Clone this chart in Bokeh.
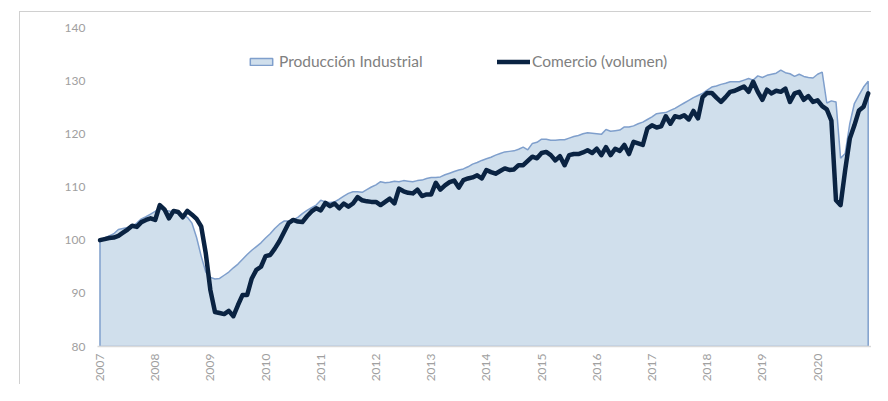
from bokeh.plotting import figure
from bokeh.models import Legend, LegendItem, FixedTicker, Range1d, InlineStyleSheet
from bokeh.embed import file_html
from bokeh.resources import INLINE
import math

years = ["2007", "2008", "2009", "2010", "2011", "2012", "2013",
         "2014", "2015", "2016", "2017", "2018", "2019", "2020"]

produccion = [
    100.0, 100.4, 100.8, 101.2, 102.0, 102.2, 102.4, 102.6, 103.2, 104.0, 104.4, 104.9,
    105.4, 106.0, 105.6, 105.5, 105.3, 105.0, 104.8, 104.3, 103.2, 100.5, 97.0, 94.0,
    93.0, 92.7, 92.8, 93.4, 94.0, 94.8, 95.5, 96.4, 97.3, 98.1, 98.8, 99.5,
    100.4, 101.2, 102.2, 103.0, 103.6, 103.6, 103.8, 104.3, 105.0, 105.6, 106.1, 106.6,
    107.5, 107.2, 107.1, 107.2, 107.7, 108.3, 108.8, 109.1, 109.1, 109.0, 109.5, 110.0,
    110.4, 111.0, 110.8, 110.9, 111.1, 111.0, 111.2, 111.1, 111.0, 111.2, 111.3, 111.6,
    111.8, 111.8, 111.9, 112.3, 112.6, 112.9, 113.2, 113.4, 113.8, 114.3, 114.6, 115.0,
    115.3, 115.6, 116.0, 116.3, 116.6, 116.7, 116.8, 117.1, 117.5, 117.0, 118.2, 118.4,
    119.0, 119.0, 118.8, 118.8, 118.9, 118.9, 119.2, 119.5, 119.7, 120.0, 120.2, 120.1,
    120.0, 119.9, 120.8, 120.5, 120.6, 120.7, 121.3, 121.3, 121.5, 121.9, 122.2, 122.7,
    123.2, 123.8, 123.9, 124.0, 124.4, 124.8, 125.3, 125.8, 126.3, 126.8, 127.2, 127.6,
    128.2, 128.8, 129.0, 129.3, 129.5, 129.8, 129.8, 129.8, 130.1, 130.4, 130.1, 130.9,
    130.6, 131.0, 131.2, 131.4, 132.0, 131.5, 131.3, 130.8, 131.2, 130.8, 130.6, 130.5,
    131.2, 131.6, 125.8, 126.2, 126.0, 115.4, 116.3, 121.9, 125.7, 127.3, 128.8, 129.9,
]

comercio = [
    100.0, 100.2, 100.4, 100.5, 100.8, 101.4, 102.0, 102.7, 102.5, 103.4, 103.8, 104.1,
    103.8, 106.6, 105.8, 104.1, 105.5, 105.3, 104.3, 105.5, 104.8, 104.0, 102.6, 97.5,
    90.6, 86.5, 86.3, 86.1, 86.7, 85.7, 87.8, 89.7, 89.7, 92.8, 94.4, 95.0,
    97.0, 97.2, 98.4, 99.8, 101.5, 103.2, 103.8, 103.5, 103.4, 104.5, 105.4, 106.0,
    105.6, 107.0, 106.4, 106.9, 106.0, 106.9, 106.3, 106.9, 108.1, 107.5, 107.3, 107.2,
    107.2, 106.6, 107.2, 107.8, 106.9, 109.7, 109.2, 108.9, 108.8, 109.5, 108.3, 108.6,
    108.6, 110.8, 109.5, 110.3, 110.9, 111.2, 109.9, 111.3, 111.6, 111.8, 112.2, 111.6,
    113.2, 112.8, 112.5, 113.0, 113.5, 113.2, 113.3, 114.1, 114.1, 114.9, 115.7, 115.4,
    116.4, 116.6, 116.0, 115.0, 115.8, 114.1, 116.0, 116.2, 116.2, 116.5, 116.9, 116.4,
    117.2, 116.0, 117.5, 116.0, 117.2, 116.8, 117.9, 116.2, 118.5, 118.2, 117.9, 121.0,
    121.6, 121.2, 121.4, 123.3, 121.9, 123.3, 123.1, 123.5, 122.7, 124.3, 122.9, 126.9,
    127.7, 127.7, 126.8, 126.0, 126.9, 127.9, 128.1, 128.5, 128.9, 127.9, 129.8, 127.9,
    126.4, 128.3, 127.6, 128.1, 127.9, 128.5, 126.0, 127.6, 127.9, 126.4, 127.1, 126.0,
    126.3, 125.2, 124.6, 122.5, 107.5, 106.6, 113.2, 119.1, 121.6, 124.4, 125.1, 127.6,
]

y_ticks = [80, 90, 100, 110, 120, 130, 140]

n = len(produccion)
months = list(range(n))
year_ticks = [12 * k for k in range(len(years))]

FONT = "Lato"

p = figure(width=852, height=373, output_backend="svg", toolbar_location=None,
           x_range=Range1d(-0.54, 167.72), y_range=Range1d(80, 140),
           min_border_left=77, min_border_right=1, min_border_top=15, min_border_bottom=39)
# outer chart frame: light grey left/top edges
p.stylesheets = [InlineStyleSheet(css=":host { margin-left: 19px; margin-top: 11px; "
                                      "border-left: 1px solid #D0D0D0; border-top: 1px solid #D0D0D0; }")]
p.outline_line_color = None
p.background_fill_color = "white"
p.border_fill_color = "white"
p.xgrid.visible = False
p.ygrid.visible = False

# area (Producción Industrial)
area_x = [months[0]] + months + [months[-1]]
area_y = [y_ticks[0]] + produccion + [y_ticks[0]]
area = p.patch(area_x, area_y, fill_color="#D0DFEC", line_color="#7F9FCC", line_width=1.5)

# line (Comercio)
line = p.line(months, comercio, line_color="#0A2342", line_width=4.5,
              line_join="round", line_cap="round")

# axes
p.xaxis.ticker = FixedTicker(ticks=year_ticks)
p.xaxis.major_label_overrides = {t: y for t, y in zip(year_ticks, years)}
p.xaxis.major_label_orientation = math.pi / 2
p.xaxis.major_tick_line_color = None
p.xaxis.minor_tick_line_color = None
p.xaxis.major_tick_out = 0
p.xaxis.major_tick_in = 0
p.xaxis.minor_tick_out = 0
p.xaxis.axis_line_color = "#D9D9D9"
p.xaxis.axis_line_width = 1.5
p.xaxis.major_label_text_color = "#A0A0A0"
p.xaxis.major_label_text_font = FONT
p.xaxis.major_label_text_font_size = "12px"
p.xaxis.major_label_standoff = 7

p.yaxis.ticker = FixedTicker(ticks=y_ticks)
p.yaxis.axis_line_color = None
p.yaxis.major_tick_line_color = None
p.yaxis.minor_tick_line_color = None
p.yaxis.major_tick_out = 0
p.yaxis.major_tick_in = 0
p.yaxis.minor_tick_out = 0
p.yaxis.major_label_text_color = "#A0A0A0"
p.yaxis.major_label_text_font = FONT
p.yaxis.major_label_text_font_size = "12px"
p.yaxis.major_label_standoff = 12

common = dict(orientation="horizontal", padding=0, margin=0, spacing=0,
              border_line_alpha=0, background_fill_alpha=0,
              label_text_font=FONT, label_text_font_size="15.5px",
              label_text_color="#808080", glyph_height=9, label_height=9)

leg1 = Legend(items=[LegendItem(label="Producción Industrial", renderers=[area])],
              location=(150, 276), glyph_width=28, label_standoff=4, **common)
leg2 = Legend(items=[LegendItem(label="Comercio (volumen)", renderers=[line])],
              location=(400, 276), glyph_width=33, label_standoff=2, **common)
p.add_layout(leg1)
p.add_layout(leg2)

open("out.html", "w").write(file_html(p, INLINE))
